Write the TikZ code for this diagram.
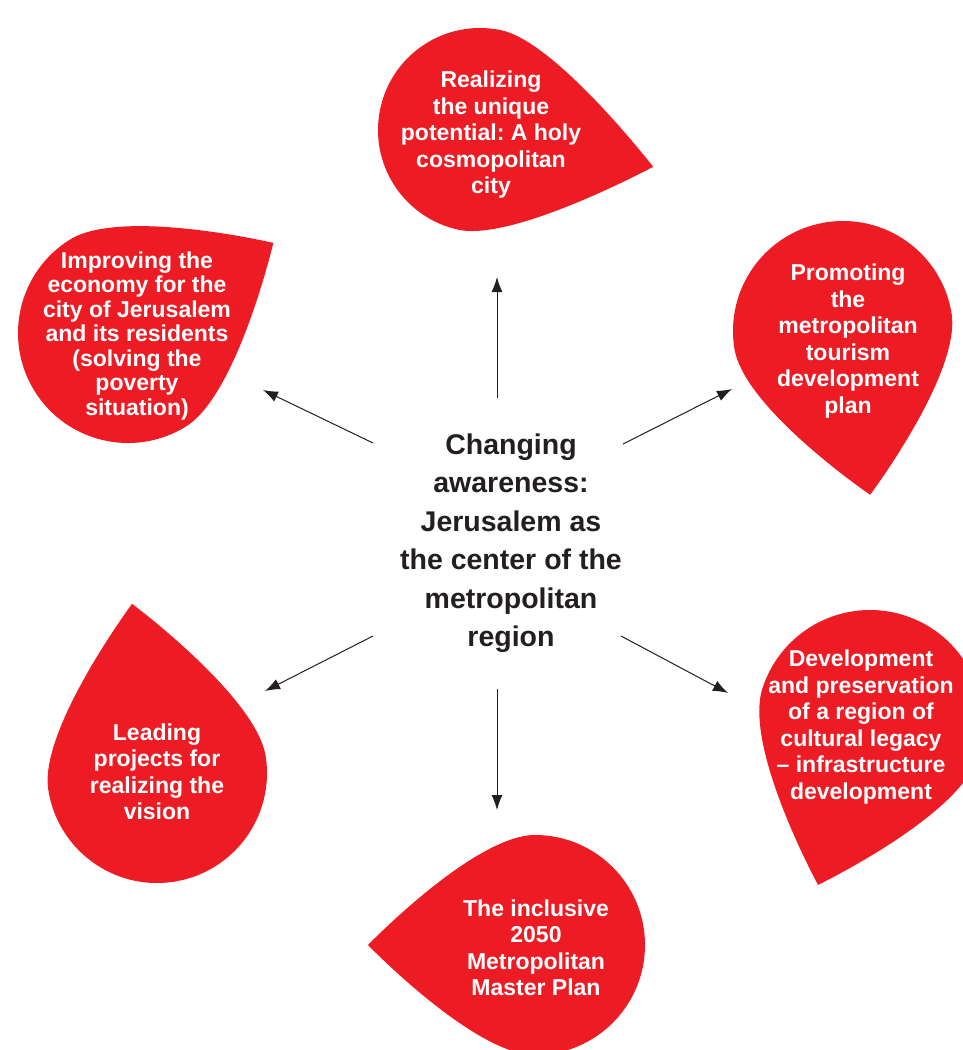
\documentclass[tikz,border=0pt]{standalone}
\usepackage{fontspec}
\setmainfont{Liberation Sans}
\usetikzlibrary{calc,arrows.meta}
\frenchspacing

\definecolor{dropred}{RGB}{237,28,36}
\definecolor{inkgray}{RGB}{35,31,32}

% teardrop: centre, radius, tip angle, tip distance
\newcommand{\raindrop}[4]{%
  \fill[dropred] ($(#1)+(#3:#4)$)
    .. controls ($(#1)+(#3:#4)$) and ($(#1)+(#3-90:#2)+(#3:0.552*#2)$) .. ($(#1)+(#3-90:#2)$)
    arc[start angle=#3-90, delta angle=-180, radius=#2]
    .. controls ($(#1)+(#3+90:#2)+(#3:0.552*#2)$) and ($(#1)+(#3:#4)$) .. ($(#1)+(#3:#4)$)
    -- cycle;
}

\begin{document}
\begin{tikzpicture}[x=1pt,y=-1pt,>={Latex[length=15pt,width=11pt]},
  droptext/.style={text=white,align=center,font=\bfseries\fontsize{23}{26.5}\selectfont},
  hubtext/.style={text=inkgray,align=center,font=\bfseries\fontsize{28.5}{38.5}\selectfont},
  link/.style={->,draw=inkgray,line width=1pt}]

\useasboundingbox (0,0) rectangle (963,1050);

% the six drops
\raindrop{480,130}{102}{12}{177}
\raindrop{843,331}{110}{80.6}{166}
\raindrop{128,333}{110}{-31.8}{171}
\raindrop{870,723}{113}{107.8}{170}
\raindrop{535,945}{110}{180}{167}
\raindrop{157,773}{110}{-98.4}{171}

\node[droptext] (vision) at (491,135) {Realizing\\the unique\\potential: A holy\\cosmopolitan\\city};
\node[droptext] (tourism) at (848,341) {Promoting\\the\\metropolitan\\tourism\\development\\plan};
\node[droptext,font=\bfseries\fontsize{23}{24.5}\selectfont] (economy) at (137,336) {Improving the\\economy for the\\city of Jerusalem\\and its residents\\(solving the\\poverty\\situation)};
\node[droptext] (legacy) at (861,727) {Development\\and preservation\\of a region of\\cultural legacy\\– infrastructure\\development};
\node[droptext] (masterplan) at (536,948) {The inclusive\\2050\\Metropolitan\\Master Plan};
\node[droptext] (projects) at (157,772) {Leading\\projects for\\realizing the\\vision};

\node[hubtext] (hub) at (511,543) {Changing\\awareness:\\Jerusalem as\\the center of the\\metropolitan\\region};

% arrow ends
\coordinate (n-from) at (497,398);  \coordinate (n-to) at (497,277);
\coordinate (nw-from) at (373,443); \coordinate (nw-to) at (263,390);
\coordinate (ne-from) at (623,444); \coordinate (ne-to) at (732,389);
\coordinate (se-from) at (621,636); \coordinate (se-to) at (728,693);
\coordinate (sw-from) at (373,636); \coordinate (sw-to) at (265,691);
\coordinate (s-from) at (497,689);  \coordinate (s-to) at (497,810);

\draw[link] (n-from) -- (n-to);
\draw[link] (nw-from) -- (nw-to);
\draw[link] (ne-from) -- (ne-to);
\draw[link] (se-from) -- (se-to);
\draw[link] (sw-from) -- (sw-to);
\draw[link] (s-from) -- (s-to);

\end{tikzpicture}
\end{document}
